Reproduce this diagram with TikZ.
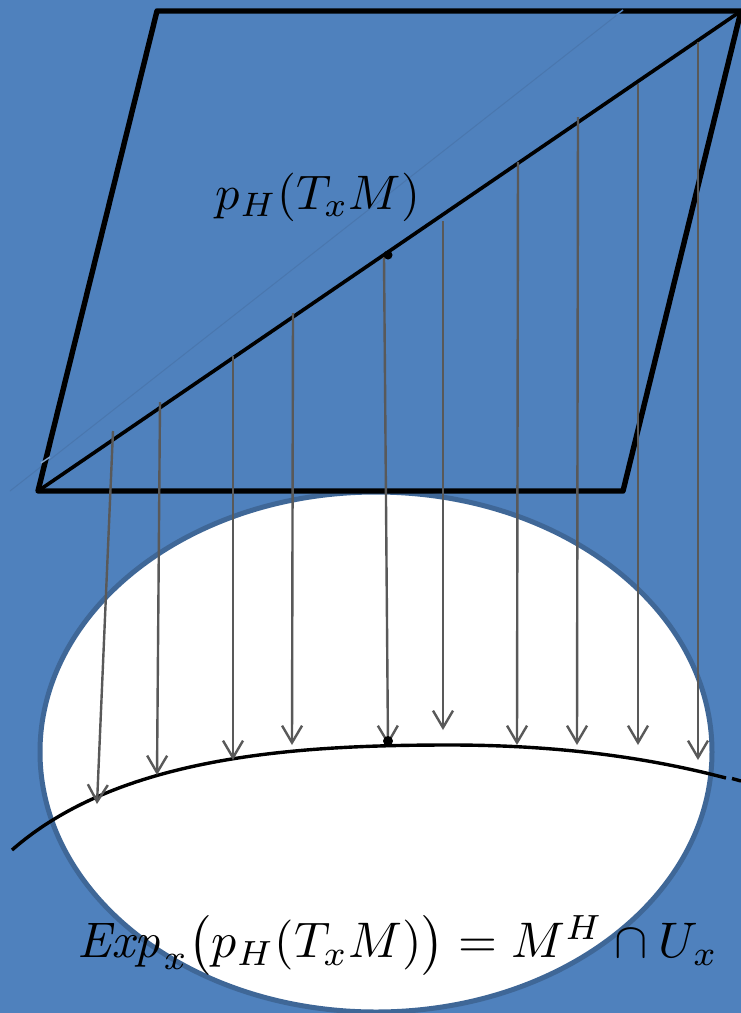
\documentclass[tikz,border=0pt]{standalone}
\usepackage{amsmath}
\usetikzlibrary{arrows.meta}
\definecolor{slideblue}{HTML}{4F81BD}
\definecolor{rimblue}{HTML}{3F6797}
\definecolor{faintblue}{HTML}{4A77AE}
\definecolor{arrowgray}{HTML}{595959}
\begin{document}
\begin{tikzpicture}[
 x=1pt,y=-1pt,
 plane/.style={line width=5.4pt,line join=round},
 curveline/.style={line width=3.4pt},
 proj/.style={arrowgray,line width=2.4pt,-{Straight Barb[length=17pt,width=20pt,line width=2.4pt]}},
 point/.style={circle,fill,inner sep=0pt,minimum size=9pt},
 label/.style={inner sep=0pt,text=black}]
 \useasboundingbox (0,0) rectangle (741,1013);
 \fill[slideblue] (0,0) rectangle (741,1013);
 % Neighbourhood disc.
 \draw[rimblue,fill=white,line width=5pt] (376,752) ellipse [x radius=336,y radius=260];
 % Horizontal plane with its diagonals.
 \draw[faintblue,line width=1pt] (10,491)--(622,11);
 \draw[plane] (157,11)--(741,11)--(623,491)--(38,491)--cycle;
 \draw[slideblue!70!white,line width=1.5pt] (41,463)--(50,457);
 \draw[slideblue,line width=1.5pt] (616,15)--(623,10);
 \draw[line width=3.6pt] (38,491)--(741,11);
 % Image curve, broken near its right end.
 \draw[curveline] (12,850)..controls(120,755)and(300,745)..(450,745)
  ..controls(560,745)and(650,758)..(726,778);
 \draw[curveline] (732,778.5)--(741,781);
 % Projection arrows.
 \foreach \i/\xa/\ya/\xb/\yb in {1/113/431/97/804,2/160/402/157/775,3/233/356/233/760,
  4/293/313/292/745,5/384/257/388/745,6/443/221/443/730,7/518/162/517/745,
  8/578/117/577/745,9/638/84/638/745,10/698/42/698/760}{
  \coordinate (top\i) at (\xa,\ya);
  \coordinate (foot\i) at (\xb,\yb);
  \draw[proj] (top\i)--(foot\i);
 }
 \node[point] (px) at (388,255){};
 \node[point,minimum size=10pt] (qx) at (388,741){};
 % Labels.
 \node[label,scale=4.85] (planelabel) at (318,197) {$p_H(T_xM)$};
 \node[label,scale=5] (imagelabel) at (398,945) {$\mathit{Exp}_x\bigl(p_H(T_xM)\bigr)=M^H\cap U_x$};
\end{tikzpicture}
\end{document}
